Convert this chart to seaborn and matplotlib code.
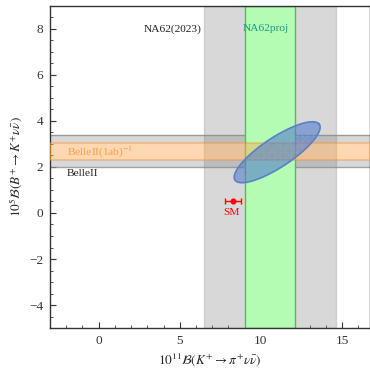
import numpy as np
import pandas as pd
import matplotlib
matplotlib.use("Agg")
import matplotlib.pyplot as plt
import seaborn as sns

# ---- data ----
na62_2023 = [6.5, 14.6]          # x band
na62_proj = [9.0, 12.1]          # x band
belle2 = [2.0, 3.4]              # y band
belle2_1ab = [2.3, 3.06]         # y band
sm_x, sm_xerr, sm_y = 8.3, 0.5, 0.5
ell_center = [11.0, 2.64]
ell_major = [2.6, 1.21]          # half major axis vector (data units)
ell_minor = [0.5, -0.54]         # half minor axis vector (data units)
xticks = [0, 5, 10, 15]
yticks = [-4, -2, 0, 2, 4, 6, 8]

sns.set_style("ticks")
plt.rcParams['font.family'] = ['Liberation Serif', 'DejaVu Serif']
plt.rcParams['mathtext.fontset'] = 'stix'
plt.rcParams['hatch.linewidth'] = 0.25

fig = plt.figure(figsize=(3.70, 3.69), dpi=100)
ax = fig.add_axes([0.135, 0.111, 0.865, 0.873])

gray = '#808080'
ax.axvspan(*na62_2023, facecolor=gray, alpha=0.3, edgecolor='#8a8a8a', lw=1.0, zorder=1)
ax.axhspan(belle2[0], belle2_1ab[0], facecolor=gray, alpha=0.3, edgecolor='none', zorder=1)
ax.axhspan(belle2_1ab[1], belle2[1], facecolor=gray, alpha=0.3, edgecolor='none', zorder=1)
ax.axhline(belle2[0], color='#8a8a8a', lw=1.0, alpha=0.8, zorder=1)
ax.axhline(belle2[1], color='#8a8a8a', lw=1.0, alpha=0.8, zorder=1)
ax.axvspan(*na62_proj, facecolor='#b4fcb4', alpha=1.0, edgecolor='#5cb85c', lw=1.0, zorder=2)
ax.axhspan(*belle2_1ab, facecolor='#ffa850', alpha=0.45, edgecolor='#e8903a', lw=1.2, zorder=3)

# ellipse
t = np.linspace(0, 2*np.pi, 200)
ex = ell_center[0] + np.cos(t)*ell_major[0] + np.sin(t)*ell_minor[0]
ey = ell_center[1] + np.cos(t)*ell_major[1] + np.sin(t)*ell_minor[1]
ax.fill(ex, ey, facecolor='#4a72c8', alpha=0.55, edgecolor='none', zorder=4)
ax.fill(ex, ey, facecolor='none', edgecolor='#88a8dc', hatch='xxx+++', lw=0.0, alpha=0.7, zorder=5)
ax.plot(ex, ey, color='#5a80c8', lw=1.2, zorder=5)

# SM point
df = pd.DataFrame({'x': [sm_x], 'y': [sm_y]})
ax.errorbar(sm_x, sm_y, xerr=sm_xerr, color='red', capsize=2.5, lw=1.0, capthick=1.0, zorder=6)
sns.scatterplot(data=df, x='x', y='y', color='red', s=16, edgecolor='red', ax=ax, zorder=7)

# labels
ax.text(4.55, 8.0, 'NA62(2023)', fontsize=8.2, color='#222222', ha='center', va='center', zorder=8)
ax.text(10.3, 8.0, 'NA62proj', fontsize=8.2, color='#1a9a86', ha='center', va='center', zorder=8)
ax.text(-1.95, 2.64, r'BelleII(1ab)$^{-1}$', fontsize=8.2, color='#f5a048', ha='left', va='center', zorder=8)
ax.text(-1.95, 1.72, 'BelleII', fontsize=8.2, color='#222222', ha='left', va='center', zorder=8)
ax.text(8.2, 0.03, 'SM', fontsize=8.2, color='red', ha='center', va='center', zorder=8)

ax.set_xlim(-3, 16.72)
ax.set_ylim(-5, 9)
ax.set_xticks(xticks)
ax.set_yticks(yticks)
ax.set_xticklabels([str(v) for v in xticks])
ax.set_yticklabels([f'{v}'.replace('-', '\u2212') for v in yticks])
ax.xaxis.set_minor_locator(matplotlib.ticker.MultipleLocator(1))
ax.yaxis.set_minor_locator(matplotlib.ticker.MultipleLocator(0.5))
ax.tick_params(which='both', direction='in', top=False, right=False, labelsize=9.5, colors='#333333')
ax.tick_params(which='major', length=4, width=0.8, pad=5)
ax.tick_params(which='minor', length=2.5, width=0.6)
for s in ax.spines.values():
    s.set_color('#333333')
    s.set_linewidth(1.0)
    s.set_visible(True)
ax.set_xlabel(r'$10^{11}\mathcal{B}(K^{+}\to\pi^{+}\nu\bar{\nu})$', fontsize=9.5, labelpad=3)
ax.set_ylabel(r'$10^{5}\mathcal{B}(B^{+}\to K^{+}\nu\bar{\nu})$', fontsize=9.5, labelpad=3)

fig.savefig('out.png', dpi=100)
